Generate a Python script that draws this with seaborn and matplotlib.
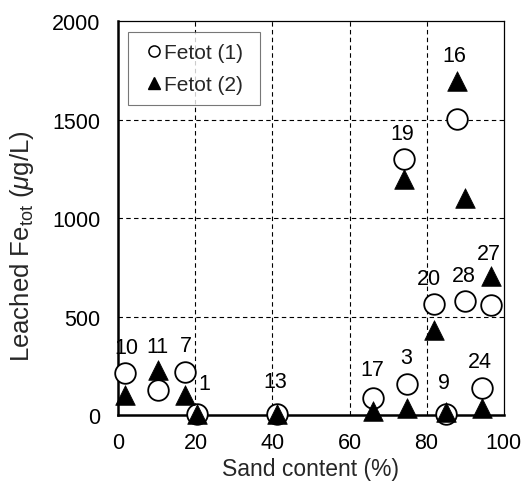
import matplotlib
matplotlib.use("Agg")
import matplotlib.pyplot as plt
import seaborn as sns
import pandas as pd
from matplotlib.lines import Line2D

# Sample IDs, sand content (%) and leached total iron (ug/L) for two leaching steps
samples = ["10", "11", "7", "1", "13", "17", "3", "9", "24", "19", "16", "20", "28", "27"]
sand = [1.6, 10.2, 17.4, 20.3, 41.2, 66.0, 74.8, 85.0, 94.4, 74.2, 87.8, 82.0, 90.0, 96.8]
fetot1 = [212, 127, 221, 6, 6, 86, 160, 5, 136, 1300, 1503, 563, 580, 560]
fetot2 = [103, 227, 103, 5, 5, 22, 34, 14, 34, 1197, 1697, 430, 1100, 707]

# label placement relative to the Fetot (1) marker, in pixels
label_dx = [2, 0, 0, 8, -2, 0, 0, -2, -2, -2, -2, -5, -1, -2]
label_dy = [26, 44, 26, 30, 32, 29, 26, 32, 27, 25, 63, 26, 25, 51]

df1 = pd.DataFrame({"sand": sand, "value": fetot1})
df2 = pd.DataFrame({"sand": sand, "value": fetot2})

sns.set_theme(style="white")
plt.rcParams["font.family"] = ["Liberation Sans", "DejaVu Sans"]
plt.rcParams["mathtext.fontset"] = "custom"
plt.rcParams["mathtext.rm"] = "Liberation Sans"
plt.rcParams["mathtext.it"] = "Liberation Sans:italic"

fig = plt.figure(figsize=(5.24, 4.89), dpi=100)
ax = fig.add_axes([0.226, 0.149, 0.735, 0.806])

sns.scatterplot(data=df1, x="sand", y="value", marker="o", s=220,
                facecolor="white", edgecolor="black", linewidth=1.3,
                ax=ax, clip_on=False, zorder=3)
sns.scatterplot(data=df2, x="sand", y="value", marker="^", s=200,
                color="black", edgecolor="black", linewidth=0.5,
                ax=ax, clip_on=False, zorder=4)

for name, x, y, dx, dy in zip(samples, sand, fetot1, label_dx, label_dy):
    ax.annotate(name, xy=(x, y), xytext=(dx, dy), textcoords="offset pixels",
                ha="center", va="center", fontsize=15.5, color="black", zorder=5)

ax.set_xlim(0, 100)
ax.set_ylim(0, 2000)
ax.set_xticks([0, 20, 40, 60, 80, 100])
ax.set_yticks([0, 500, 1000, 1500, 2000])
ax.tick_params(axis="both", length=0, labelsize=15.5, colors="black")
ax.tick_params(axis="y", pad=13)
ax.tick_params(axis="x", pad=12)

for v in [20, 40, 60, 80]:
    ax.axvline(v, color="black", linestyle=(0, (4, 3)), linewidth=0.8, zorder=1)
for v in [500, 1000, 1500]:
    ax.axhline(v, color="black", linestyle=(0, (4, 3)), linewidth=0.8, zorder=1)

for side in ["top", "right"]:
    ax.spines[side].set_color("black")
    ax.spines[side].set_linewidth(0.9)
for side in ["left", "bottom"]:
    ax.spines[side].set_color("black")
    ax.spines[side].set_linewidth(1.8)

ax.set_xlabel("Sand content (%)", fontsize=16.5, labelpad=3)
ax.set_ylabel(r"Leached Fe$_{\mathrm{tot}}$ ($\mathit{\mu}$g/L)", fontsize=18.5)
ax.yaxis.set_label_coords(-0.215, 0.43)

handles = [
    Line2D([], [], marker="o", linestyle="none", markersize=8,
           markerfacecolor="white", markeredgecolor="black", markeredgewidth=1.1),
    Line2D([], [], marker="^", linestyle="none", markersize=8,
           markerfacecolor="black", markeredgecolor="black"),
]
leg = ax.legend(handles, ["Fetot (1) ", "Fetot (2) "], loc="upper left",
                bbox_to_anchor=(0.024, 0.972), fontsize=15, frameon=True,
                fancybox=False, handletextpad=-0.25, handlelength=1.44,
                borderpad=0.55, labelspacing=0.6, borderaxespad=0)
leg.get_frame().set_edgecolor("#555555")
leg.get_frame().set_linewidth(0.8)

fig.savefig("out.png", dpi=100)
